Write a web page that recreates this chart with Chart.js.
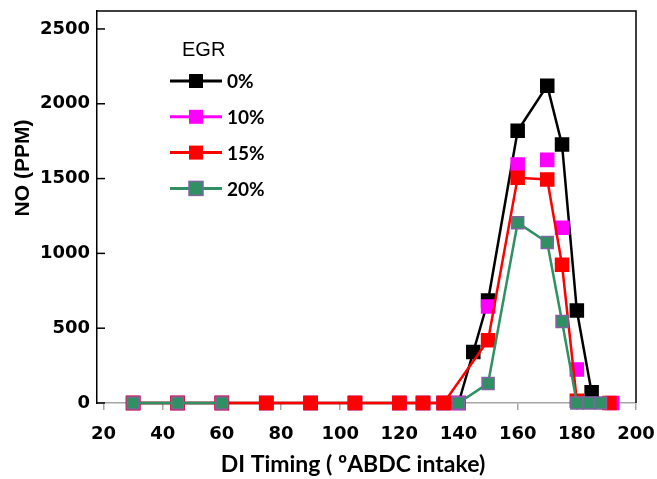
<!DOCTYPE html>
<html>
<head>
<meta charset="utf-8">
<script src="https://cdn.jsdelivr.net/npm/chart.js@4"></script>
<style>
  html, body { margin: 0; padding: 0; background: #fff; }
  #wrap { width: 657px; height: 479px; }
</style>
</head>
<body>
<div id="wrap"><canvas id="no_chart"></canvas></div>
<script>
// DATA
const egrLabels = ['0%', '10%', '15%', '20%'];

const timing0 = [30, 45, 60, 75, 90, 105, 120, 128, 135, 140, 145, 150, 160, 170, 175, 180, 185];
const no0     = [0, 0, 0, 0, 0, 0, 0, 0, 0, 0, 341, 685, 1820, 2121, 1727, 618, 71];

const timing10 = [30, 45, 60, 75, 90, 105, 120, 128, 135, 140, 150, 160, 170, 175, 180, 192];
const no10     = [0, 0, 0, 0, 0, 0, 0, 0, 0, 0, 645, 1594, 1625, 1172, 224, 0];

const timing15 = [30, 45, 60, 75, 90, 105, 120, 128, 135, 150, 160, 170, 175, 180, 191];
const no15     = [0, 0, 0, 0, 0, 0, 0, 0, 0, 419, 1505, 1494, 924, 15, 0];

// 20% series has no readings between 60 and 140
const timing20 = [30, 45, 60, 75, 90, 105, 120, 128, 135, 140, 150, 160, 170, 175, 180, 184, 188];
const no20     = [0, 0, 0, null, null, null, null, null, null, 0, 131, 1205, 1073, 545, 0, 0, 0];

const xTicks = [20, 40, 60, 80, 100, 120, 140, 160, 180, 200];
const yTicks = [0, 500, 1000, 1500, 2000, 2500];

const xTitle = 'DI Timing ( ºABDC intake)';
const yTitle = 'NO (PPM)';
const legendTitle = 'EGR';

// build points
function toPoints(xs, ys){
	return xs.map((x, i) => ({ x: x, y: ys[i] }));
}

const ctx = document.getElementById('no_chart').getContext('2d');

const tickFont = { family: '"DejaVu Sans"', size: 18, weight: 'bold' };

// frame, inward y ticks, titles and legend
const extras = {
	id: 'extras',
	afterDraw(chart){
		const c = chart.ctx;
		const a = chart.chartArea;
		const ys = chart.scales.y;

		c.save();
		// top and right frame
		c.strokeStyle = '#000';
		c.lineWidth = 1.5;
		c.beginPath();
		c.moveTo(a.left, a.top);
		c.lineTo(a.right, a.top);
		c.lineTo(a.right, a.bottom);
		c.stroke();

		// inward ticks on the y axis
		yTicks.forEach(v => {
			const py = ys.getPixelForValue(v);
			c.beginPath();
			c.moveTo(a.left, py);
			c.lineTo(a.left + 8, py);
			c.stroke();
		});

		// axis titles
		c.fillStyle = '#000';
		c.font = 'bold 23px Lato';
		c.textAlign = 'center';
		c.textBaseline = 'middle';
		c.fillText(xTitle, 353, 465);

		c.save();
		c.translate(23, 168);
		c.rotate(-Math.PI / 2);
		c.font = 'bold 21px "Liberation Sans"';
		c.fillText(yTitle, 0, 0);
		c.restore();

		// legend
		c.font = '20px "Liberation Sans"';
		c.textAlign = 'left';
		c.fillText(legendTitle, 182, 50);

		c.font = 'bold 19px Lato';
		chart.data.datasets.forEach((ds, i) => {
			const ry = 81 + i * 35.8;
			c.strokeStyle = ds.borderColor;
			c.lineWidth = 3;
			c.beginPath();
			c.moveTo(170, ry);
			c.lineTo(222, ry);
			c.stroke();
			c.fillStyle = ds.pointBackgroundColor;
			c.fillRect(189, ry - 7, 14, 14);
			if (ds.pointBorderColor !== ds.pointBackgroundColor) {
				c.strokeStyle = ds.pointBorderColor;
				c.lineWidth = 1.5;
				c.strokeRect(189, ry - 7, 14, 14);
			}
			c.fillStyle = '#000';
			c.fillText(ds.label, 227, ry + 1);
		});
		c.restore();
	}
};

let my_chart = new Chart(ctx, {
	type: 'line',
	data: {
		datasets: [{
			label: egrLabels[0],
			data: toPoints(timing0, no0),
			borderColor: '#000000',
			backgroundColor: '#000000',
			pointBackgroundColor: '#000000',
			pointBorderColor: '#000000',
			borderWidth: 2.5,
			order: 3
		},{
			label: egrLabels[1],
			data: toPoints(timing10, no10),
			borderColor: '#ff00ff',
			backgroundColor: '#ff00ff',
			pointBackgroundColor: '#ff00ff',
			pointBorderColor: '#ff00ff',
			borderWidth: 2.5,
			showLine: false,
			order: 2
		},{
			label: egrLabels[2],
			data: toPoints(timing15, no15),
			borderColor: '#ff0000',
			backgroundColor: '#ff0000',
			pointBackgroundColor: '#ff0000',
			pointBorderColor: '#ff0000',
			borderWidth: 2.5,
			order: 1
		},{
			label: egrLabels[3],
			data: toPoints(timing20, no20),
			borderColor: '#2f9163',
			backgroundColor: '#2f9163',
			pointBackgroundColor: '#2f9163',
			pointBorderColor: '#8064a2',
			pointBorderWidth: 1.5,
			borderWidth: 2.5,
			order: 0
		}]
	},
	options: {
		responsive: true,
		maintainAspectRatio: false,
		animation: false,
		clip: false,
		spanGaps: false,
		elements: {
			line: { tension: 0, fill: false },
			point: { pointStyle: 'rect', radius: 8.5, borderWidth: 1, hoverRadius: 8.5 }
		},
		layout: { padding: { top: 9, right: 21, left: 0, bottom: 0 } },
		plugins: {
			legend: { display: false },
			tooltip: { enabled: false }
		},
		scales: {
			x: {
				type: 'linear',
				min: 17.8,
				max: 200,
				afterBuildTicks: axis => { axis.ticks = xTicks.map(v => ({ value: v })); },
				afterFit: axis => {
					axis.height = 76;
					axis.paddingLeft = 0;
					axis.paddingRight = 0;
				},
				grid: { drawOnChartArea: false, color: '#a6a6a6', lineWidth: 1.5, tickLength: 7 },
				border: { color: '#a6a6a6', width: 1.5 },
				ticks: { color: '#000', font: tickFont, padding: 14, maxRotation: 0, callback: v => String(v) }
			},
			y: {
				min: 0,
				max: 2620,
				afterBuildTicks: axis => { axis.ticks = yTicks.map(v => ({ value: v })); },
				afterFit: axis => {
					axis.width = 97;
					axis.paddingTop = 0;
					axis.paddingBottom = 0;
				},
				grid: { drawOnChartArea: false, drawTicks: false },
				border: { color: '#000', width: 1.5 },
				ticks: { color: '#000', font: tickFont, padding: 7, callback: v => String(v) }
			}
		}
	},
	plugins: [extras]
});
</script>
</body>
</html>
